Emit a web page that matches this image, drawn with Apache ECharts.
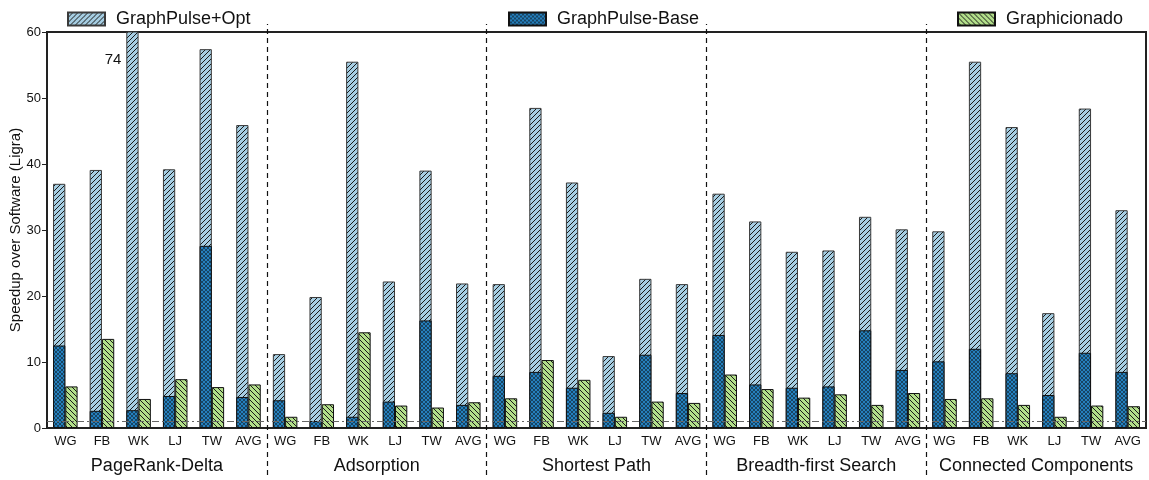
<!DOCTYPE html>
<html><head><meta charset="utf-8">
<script src="https://cdn.jsdelivr.net/npm/echarts@6/dist/echarts.min.js"></script>
<style>html,body{margin:0;padding:0;background:#fff}#c{width:1149px;height:480px}</style>
</head><body><div id="c"></div>
<script>
const categories = ['WG','FB','WK','LJ','TW','AVG','WG','FB','WK','LJ','TW','AVG','WG','FB','WK','LJ','TW','AVG','WG','FB','WK','LJ','TW','AVG','WG','FB','WK','LJ','TW','AVG'];
const groups = ['PageRank-Delta','Adsorption','Shortest Path','Breadth-first Search','Connected Components'];
const yTicks = [0,10,20,30,40,50,60];
const optValues = [37.0,39.1,74,39.2,57.4,45.9, 11.2,19.85,55.5,22.2,39.0,21.9, 21.8,48.5,37.2,10.9,22.6,21.8, 35.5,31.3,26.7,26.9,32.0,30.1, 29.8,55.5,45.6,17.4,48.4,33.0];
const baseValues = [12.5,2.6,2.7,4.85,27.6,4.7, 4.2,1.06,1.7,4.0,16.3,3.5, 7.9,8.5,6.1,2.3,11.1,5.3, 14.1,6.6,6.1,6.3,14.8,8.8, 10.1,12.0,8.3,5.0,11.4,8.5];
const graphicionadoValues = [6.3,13.5,4.4,7.4,6.2,6.6, 1.7,3.6,14.5,3.4,3.1,3.9, 4.5,10.3,7.3,1.7,4.0,3.8, 8.1,5.9,4.6,5.1,3.5,5.3, 4.4,4.5,3.5,1.7,3.4,3.3];
const baselineValue = 1;
const clippedLabel = {index: 2, at: 55.8, text: '74'};

function hatch(bg, dirs, step, lw, ink) {
  const c = document.createElement('canvas');
  c.width = c.height = step;
  const g = c.getContext('2d');
  g.fillStyle = bg; g.fillRect(0,0,step,step);
  g.strokeStyle = ink; g.lineWidth = lw;
  for (const d of dirs) {
    for (const x0 of [-step, 0, step]) {
      g.beginPath();
      if (d === '/') { g.moveTo(x0, step); g.lineTo(x0+step, 0); }
      else { g.moveTo(x0, 0); g.lineTo(x0+step, step); }
      g.stroke();
    }
  }
  return {image: c, repeat: 'repeat'};
}
const optFill = hatch('#a6cee3', ['/'], 5, 1, '#1a1a1a');
const baseFill = hatch('#2580be', ['/','\\'], 4, 0.5, '#0a0a0a');
const greenFill = hatch('#b2df8a', ['\\'], 5, 1, '#1a1a1a');

const FONT = 'Liberation Sans';
const chart = echarts.init(document.getElementById('c'));
const legendCommon = {top: 5, icon: 'rect', itemWidth: 37, itemHeight: 13, itemGap: 10,
  textStyle: {fontFamily: FONT, fontSize: 18, color: '#111', padding: [0,0,0,6]}};
chart.setOption({
  animation: false,
  legend: [
    Object.assign({left: 62, data: ['GraphPulse+Opt']}, legendCommon),
    Object.assign({left: 503, data: ['GraphPulse-Base']}, legendCommon),
    Object.assign({left: 952, data: ['Graphicionado']}, legendCommon)
  ],
  grid: [
    {left: 47, right: 3, top: 32, bottom: 52, containLabel: false, outerBoundsMode: 'none',
      show: true, borderColor: '#222', borderWidth: 2, backgroundColor: 'transparent'},
    {left: 47, right: 3, top: 24, bottom: 5, containLabel: false, outerBoundsMode: 'none'}
  ],
  xAxis: [
    {type: 'category', gridIndex: 0, data: categories,
      axisLine: {lineStyle: {color: '#222', width: 2}},
      axisTick: {alignWithLabel: true, length: 5, lineStyle: {color: '#222'}},
      axisLabel: {fontFamily: FONT, fontSize: 13, color: '#111', margin: 7, interval: 0}},
    {type: 'category', gridIndex: 0, data: groups, position: 'bottom',
      axisLine: {show: false}, axisTick: {show: false},
      axisLabel: {fontFamily: FONT, fontSize: 18, color: '#111', margin: 29, interval: 0}},
    {type: 'category', gridIndex: 0, data: categories, show: false},
    {type: 'value', gridIndex: 1, min: 0, max: categories.length, show: false}
  ],
  yAxis: [
    {type: 'value', gridIndex: 0, min: yTicks[0], max: yTicks[yTicks.length-1], interval: 10,
      name: 'Speedup over Software (Ligra)', nameLocation: 'middle', nameGap: 24, nameMoveOverlap: false,
      nameTextStyle: {fontFamily: FONT, fontSize: 15, color: '#111'},
      axisLine: {show: true, lineStyle: {color: '#222', width: 2}},
      axisTick: {show: true, length: 5, lineStyle: {color: '#222'}},
      axisLabel: {fontFamily: FONT, fontSize: 13, color: '#111', margin: 6},
      splitLine: {show: false}},
    {type: 'value', gridIndex: 1, min: 0, max: 1, show: false}
  ],
  series: [
    {name: 'GraphPulse+Opt', type: 'bar', xAxisIndex: 0, yAxisIndex: 0, data: optValues,
      barGap: '0%', barCategoryGap: '33%', clip: true,
      itemStyle: {color: optFill, borderColor: '#3a3a3a', borderWidth: 1},
      markLine: {silent: true, symbol: 'none', label: {show: false},
        lineStyle: {color: '#666', width: 1.2, type: [7,3,2,3]},
        data: [{yAxis: baselineValue}]},
      markPoint: {silent: true, symbol: 'circle', symbolSize: 0,
        label: {show: true, position: 'left', distance: 11, fontFamily: FONT, fontSize: 15, color: '#111',
          formatter: clippedLabel.text},
        data: [{coord: [clippedLabel.index, clippedLabel.at]}]}},
    {name: 'Graphicionado', type: 'bar', xAxisIndex: 0, yAxisIndex: 0, data: graphicionadoValues,
      barGap: '0%', barCategoryGap: '33%',
      itemStyle: {color: greenFill, borderColor: '#111', borderWidth: 1}},
    {name: 'GraphPulse-Base', type: 'bar', xAxisIndex: 2, yAxisIndex: 0, data: baseValues,
      barGap: '0%', barCategoryGap: '33%', z: 3,
      itemStyle: {color: baseFill, borderColor: '#111', borderWidth: 1}},
    {name: 'pad', type: 'bar', xAxisIndex: 2, yAxisIndex: 0, data: categories.map(() => '-'),
      barGap: '0%', barCategoryGap: '33%'},
    {name: 'sep', type: 'line', xAxisIndex: 3, yAxisIndex: 1, data: [],
      markLine: {silent: true, symbol: 'none', label: {show: false},
        lineStyle: {color: '#111', width: 1.2, type: [5,4]},
        data: [1,2,3,4].map(i => ({xAxis: i * categories.length / groups.length}))}}
  ]
});
</script></body></html>
